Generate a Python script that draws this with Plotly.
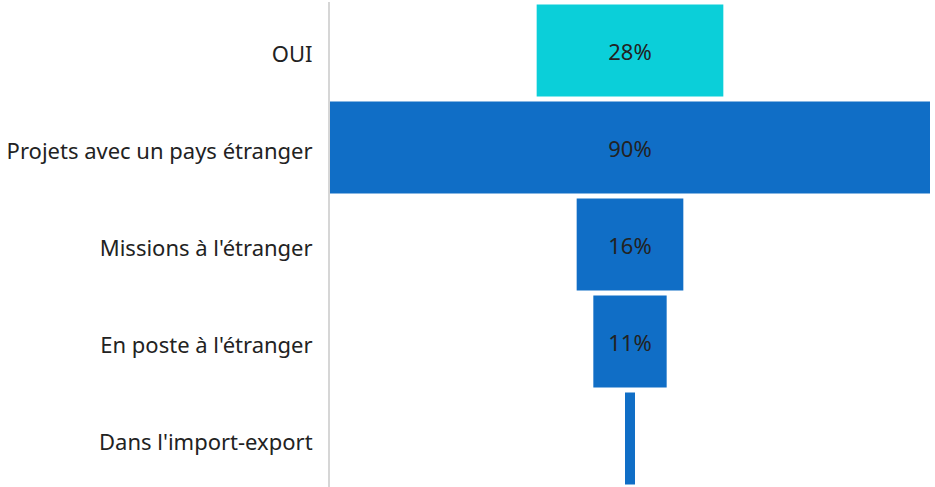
import plotly.graph_objects as go

categories = ["OUI", "Projets avec un pays étranger", "Missions à l'étranger",
              "En poste à l'étranger", "Dans l'import-export"]
values = [28, 90, 16, 11, 1.5]
colors = ["#0BCFD9", "#106EC6", "#106EC6", "#106EC6", "#106EC6"]

fig = go.Figure(go.Funnel(
    y=categories,
    x=values,
    marker=dict(color=colors, line=dict(width=0)),
    connector=dict(visible=False),
    texttemplate="%{x}%",
    textposition="inside",
    insidetextanchor="middle",
    textfont=dict(size=22, color="#222222", family="Noto Sans"),
    hoverinfo="y+x",
))

fig.update_layout(
    width=935, height=487,
    margin=dict(l=330, r=5, t=2, b=0),
    paper_bgcolor="white", plot_bgcolor="white",
    font=dict(family="Noto Sans", size=22, color="#222222"),
    funnelgap=0.05,
    showlegend=False,
    uniformtext=dict(minsize=14, mode="hide"),
    xaxis=dict(visible=False, range=[-45, 45]),
    yaxis=dict(showline=True, linecolor="#d6d6d6", linewidth=2,
               showgrid=False, ticks="", ticklabelstandoff=11,
               ticklabelshift=-4,
               tickfont=dict(size=22, color="#222222")),
)

fig.write_html("out.html", config={"displayModeBar": False},
               post_script="document.body.style.margin='0';")
